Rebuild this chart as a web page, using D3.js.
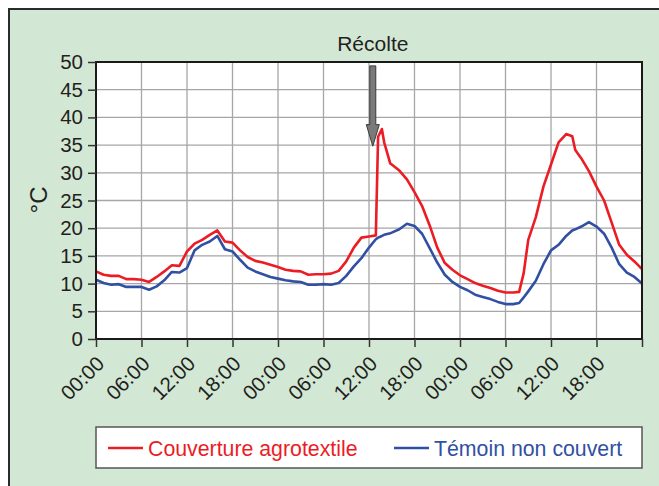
<!DOCTYPE html>
<html>
<head>
<meta charset="utf-8">
<script src="https://cdn.jsdelivr.net/npm/d3@7"></script>
<style>
  body { margin: 0; background: #fff; }
  svg { display: block; font-family: 'Liberation Sans', Arial, sans-serif; }
</style>
</head>
<body>
<div id="chart"></div>
<script>
// hours since the first 00:00
var hours = [0, 1, 2, 3, 4, 5, 6, 7, 8, 9, 10, 11, 12, 13, 14, 15, 16, 17, 18, 19, 20, 21, 22, 23,
  24, 25, 26, 27, 28, 29, 30, 31, 32, 33, 34, 35, 36, 36.9, 37.2, 37.7, 38, 38.8, 39, 40, 41, 42, 43, 44, 45, 46, 47,
  48, 49, 50, 51, 52, 53, 54, 55, 55.8, 56.4, 57, 58, 59, 60, 61, 62, 62.8, 63.2, 64, 65, 66, 67, 68, 69, 70, 71, 72]

var couverture = [12.2, 11.6, 11.4, 11.4, 10.8, 10.8, 10.7, 10.3, 11.2, 12.2, 13.3, 13.2, 15.8, 17.2, 17.9, 18.8, 19.6, 17.6, 17.4, 16.0, 14.8, 14.1, 13.8, 13.4,
  13.0, 12.5, 12.3, 12.2, 11.6, 11.7, 11.7, 11.8, 12.3, 14.0, 16.5, 18.3, 18.5, 18.7, 36.5, 37.9, 35.5, 31.7, 31.5, 30.4, 28.8, 26.5, 24.0, 20.5, 16.5, 13.7, 12.5,
  11.5, 10.8, 10.1, 9.6, 9.2, 8.7, 8.4, 8.4, 8.5, 11.9, 17.9, 22.0, 27.5, 31.5, 35.5, 37.0, 36.6, 34.1, 32.6, 30.3, 27.5, 25.0, 21.0, 17.0, 15.2, 14.0, 12.6]

var temoin = [10.7, 10.1, 9.8, 9.9, 9.4, 9.4, 9.4, 8.9, 9.5, 10.6, 12.1, 12.0, 12.8, 16.0, 17.0, 17.6, 18.6, 16.2, 15.8, 14.3, 12.9, 12.2, 11.7, 11.2,
  10.9, 10.6, 10.4, 10.3, 9.8, 9.8, 9.9, 9.8, 10.1, 11.4, 13.1, 14.6, 16.5, 18.0, 18.3, 18.6, 18.8, 19.1, 19.2, 19.8, 20.8, 20.4, 19.0, 16.4, 13.8, 11.6, 10.3,
  9.4, 8.8, 8.0, 7.6, 7.2, 6.7, 6.3, 6.3, 6.5, 7.5, 8.6, 10.5, 13.5, 16.0, 17.0, 18.6, 19.6, 19.8, 20.3, 21.1, 20.3, 19.0, 16.5, 13.5, 12.0, 11.2, 10.0]

var xTicks = [0, 6, 12, 18, 24, 30, 36, 42, 48, 54, 60, 66, 72]
var xTickLabels = ['00:00', '06:00', '12:00', '18:00', '00:00', '06:00', '12:00', '18:00', '00:00', '06:00', '12:00', '18:00', '']
var yTicks = [0, 5, 10, 15, 20, 25, 30, 35, 40, 45, 50]
var seriesNames = ['Couverture agrotextile', 'Témoin non couvert']
var recolteHour = 36.5

var width = 659
var height = 486
var margin = { top: 62, left: 96, right: 17, bottom: 147 }
var plotW = width - margin.left - margin.right
var plotH = height - margin.top - margin.bottom
var red = '#ec1c24'
var blue = '#3150a3'

var svg = d3.select('#chart')
  .append('svg')
  .attr('width', width)
  .attr('height', height)

// green frame, only top and left borders are visible
svg.append('rect')
  .attr('x', 9).attr('y', 9)
  .attr('width', width).attr('height', height)
  .attr('fill', '#d3e8d4')
svg.append('path')
  .attr('d', 'M9,' + height + 'V9H' + width)
  .attr('fill', 'none')
  .attr('stroke', '#2b2b2b')
  .attr('stroke-width', 2)

var x = d3.scaleLinear().domain([0, 72]).range([0, plotW])
var y = d3.scaleLinear().domain([0, 50]).range([plotH, 0])

var g = svg.append('g')
  .attr('transform', 'translate(' + margin.left + ',' + margin.top + ')')

g.append('rect')
  .attr('width', plotW).attr('height', plotH)
  .attr('fill', '#fff')

// grid
g.selectAll('.vgrid')
  .data(xTicks.slice(1, -1))
  .enter()
  .append('line')
  .attr('x1', d => x(d)).attr('x2', d => x(d))
  .attr('y1', 0).attr('y2', plotH)
  .attr('stroke', '#a6a6a6')
  .attr('stroke-width', 1.3)
g.selectAll('.hgrid')
  .data(yTicks.slice(1, -1))
  .enter()
  .append('line')
  .attr('x1', 0).attr('x2', plotW)
  .attr('y1', d => y(d)).attr('y2', d => y(d))
  .attr('stroke', '#a6a6a6')
  .attr('stroke-width', 1.3)

// lines
var line = function (values) {
  return d3.line()
    .x((d, i) => x(hours[i]))
    .y(d => y(d))(values)
}
g.append('path')
  .attr('d', line(temoin))
  .attr('fill', 'none')
  .attr('stroke', blue)
  .attr('stroke-width', 2.6)
  .attr('stroke-linejoin', 'round')
g.append('path')
  .attr('d', line(couverture))
  .attr('fill', 'none')
  .attr('stroke', red)
  .attr('stroke-width', 2.6)
  .attr('stroke-linejoin', 'round')

// frame
g.append('rect')
  .attr('width', plotW).attr('height', plotH)
  .attr('fill', 'none')
  .attr('stroke', '#1a1a1a')
  .attr('stroke-width', 2)

// axes
var yAxis = g.append('g')
  .call(d3.axisLeft(y).tickValues(yTicks).tickSize(8).tickPadding(5))
yAxis.select('.domain').remove()
yAxis.selectAll('line').attr('stroke', '#333').attr('stroke-width', 1.5)
yAxis.selectAll('text')
  .attr('font-size', '20.5px')
  .attr('fill', '#231f20')
  .attr('font-family', "'Liberation Sans', Arial, sans-serif")

var xAxis = g.append('g')
  .attr('transform', 'translate(0,' + plotH + ')')
  .call(d3.axisBottom(x).tickValues(xTicks).tickSize(8).tickFormat((d, i) => xTickLabels[i]))
xAxis.select('.domain').remove()
xAxis.selectAll('line').attr('stroke', '#333').attr('stroke-width', 1.5)
xAxis.selectAll('text')
  .attr('font-size', '20.5px')
  .attr('fill', '#231f20')
  .attr('font-family', "'Liberation Sans', Arial, sans-serif")
  .attr('text-anchor', 'end')
  .attr('y', 0).attr('dy', 0)
  .attr('transform', 'translate(9,26) rotate(-45)')

// y title
svg.append('text')
  .attr('transform', 'translate(47,200) rotate(-90)')
  .attr('text-anchor', 'middle')
  .attr('font-size', '24px')
  .attr('fill', '#231f20')
  .text('°C')

// harvest marker
var ax = margin.left + x(recolteHour)
svg.append('text')
  .attr('x', ax).attr('y', 51)
  .attr('text-anchor', 'middle')
  .attr('font-size', '21px')
  .attr('fill', '#231f20')
  .text('Récolte')
var aTop = margin.top + y(49.3)
var aNeck = margin.top + y(38.7)
var aTip = margin.top + y(34.8)
svg.append('path')
  .attr('d', 'M' + (ax - 3) + ',' + aTop + 'H' + (ax + 3) + 'V' + aNeck + 'H' + (ax + 6.5) +
    'L' + ax + ',' + aTip + 'L' + (ax - 6.5) + ',' + aNeck + 'H' + (ax - 3) + 'Z')
  .attr('fill', '#7a7a7a')
  .attr('stroke', '#3a3a3a')
  .attr('stroke-width', 1)

// legend
var legend = svg.append('g')
legend.append('rect')
  .attr('x', margin.left).attr('y', 427)
  .attr('width', plotW).attr('height', 41)
  .attr('fill', '#fff')
  .attr('stroke', '#555')
  .attr('stroke-width', 1.5)
var legendItems = [
  { name: seriesNames[0], color: red, x0: 108 },
  { name: seriesNames[1], color: blue, x0: 394 }
]
legendItems.forEach(function (item) {
  legend.append('line')
    .attr('x1', item.x0).attr('x2', item.x0 + 35)
    .attr('y1', 448).attr('y2', 448)
    .attr('stroke', item.color)
    .attr('stroke-width', 2.6)
  legend.append('text')
    .attr('x', item.x0 + 40).attr('y', 448)
    .attr('dy', '0.36em')
    .attr('font-size', '21.3px')
    .attr('fill', item.color)
    .text(item.name)
})
</script>
</body>
</html>
